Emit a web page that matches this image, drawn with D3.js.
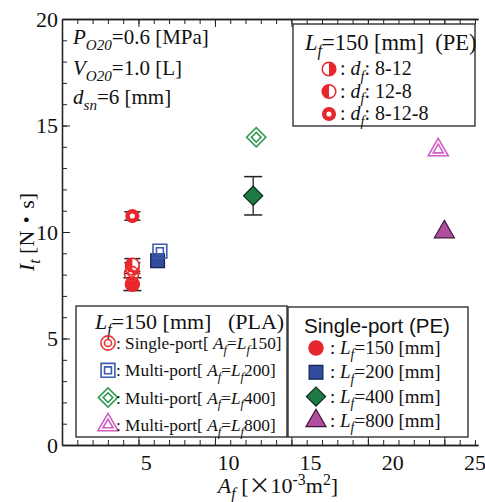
<!DOCTYPE html>
<html>
<head>
<meta charset="utf-8">
<script src="https://cdn.jsdelivr.net/npm/d3@7"></script>
<style>
  body { margin: 0; background: #fff; }
  text { font-family: 'Liberation Serif', 'Times New Roman', serif; fill: #111; white-space: pre; }
</style>
</head>
<body>
<div id="chart"></div>
<script>
// ---- data (A_f in 10^-3 m^2, I_t in N.s) ----
// single-port PE, L_f = 150, 200, 400, 800 mm
const peNames = ['150', '200', '400', '800'];
const peX = [4.6, 6.25, 12.5, 25.0];
const peY = [7.55, 8.65, 11.7, 10.0];
const peErr = [0.3, 0, 0.9, 0];

// L_f = 150 mm PE, different d_f profiles
const dfNames = ['8-12', '12-8', '8-12-8'];
const dfX = [4.6, 4.6, 4.6];
const dfY = [8.3, 8.45, 10.75];
const dfErr = [0.25, 0.3, 0.2];

// PLA, A_f equal to L_f 150/200/400/800
const plaNames = ['Single-port', 'Multi-port', 'Multi-port', 'Multi-port'];
const plaLf = ['150', '200', '400', '800'];
const plaX = [4.55, 6.4, 12.7, 24.6];
const plaY = [8.05, 9.1, 14.45, 13.85];

const xTickLabels = [5, 10, 15, 20, 25];
const yTickLabels = [0, 5, 10, 15, 20];

// ---- styles ----
const shapes = [d3.symbolCircle, d3.symbolSquare, d3.symbolSquare, d3.symbolTriangle];
const shapeSize = [160, 190, 185, 175];
const shapeRot = [0, 0, 45, 0];
const fills = ['#e8262b', '#2f4d9c', '#1d7a45', '#b24c9e'];
const strokes = ['#e8262b', '#15224f', '#0d2b18', '#3d1636'];
const plaColors = ['#ee3535', '#3d5bb0', '#2e9b50', '#cf5fc5'];
const red = '#e8262b';

const width = 485, height = 502;
const svg = d3.select('#chart').append('svg')
    .attr('width', width)
    .attr('height', height);

// tick positions and printed labels do not line up in the original,
// so labels get their own scale
const x = d3.scaleLinear().domain([0, 27.2]).range([62, 478]);
const xLabel = d3.scaleLinear().domain([0, 25]).range([64, 475]);
const y = d3.scaleLinear().domain([0, 20]).range([445, 19]);

// rich text helper: parts = [[text, kind]] kind: '', 'i', 'sub', 'sup', 'cjk'
function rich(g, px, py, parts, size, anchor) {
  const t = g.append('text').attr('x', px).attr('y', py)
      .attr('font-size', size).attr('text-anchor', anchor || 'start');
  let shift = 0;
  parts.forEach(p => {
    const kind = p[1] || '';
    let s = 0, fs = size;
    if (kind.includes('sub')) { s = size * 0.28; fs = size * 0.72; }
    if (kind.includes('sup')) { s = -size * 0.38; fs = size * 0.72; }
    const ts = t.append('tspan').attr('dy', s - shift).attr('font-size', fs).text(p[0]);
    if (kind.includes('i') || kind.includes('sub')) ts.attr('font-style', 'italic');
    if (kind.includes('cjk')) ts.style('font-family', "'Noto Sans CJK JP'");
    shift = s;
  });
  return t;
}

// ---- axes ----
const ax = svg.append('g');
function styleAxis(g) {
  g.selectAll('path').attr('stroke', '#222').attr('stroke-width', 1.3);
  g.selectAll('line').attr('stroke', '#222').attr('stroke-width', 1);
}
const majorX = d3.range(0, 26, 5), minorX = d3.range(0, 28, 1);
const majorY = d3.range(0, 21, 5), minorY = d3.range(0, 21, 1);

ax.append('g').attr('transform', `translate(0,${y(0)})`)
  .call(d3.axisBottom(x).tickValues(minorX).tickSize(-5).tickSizeOuter(0).tickFormat(''))
  .call(styleAxis);
ax.append('g').attr('transform', `translate(0,${y(0)})`)
  .call(d3.axisBottom(x).tickValues(majorX).tickSize(-8).tickSizeOuter(0).tickFormat(''))
  .call(styleAxis);
ax.append('g').attr('transform', `translate(0,${y(20)})`)
  .call(d3.axisTop(x).tickValues(minorX).tickSize(-5).tickSizeOuter(0).tickFormat(''))
  .call(styleAxis);
ax.append('g').attr('transform', `translate(0,${y(20)})`)
  .call(d3.axisTop(x).tickValues(majorX).tickSize(-8).tickSizeOuter(0).tickFormat(''))
  .call(styleAxis);
ax.append('g').attr('transform', `translate(${x(0)},0)`)
  .call(d3.axisLeft(y).tickValues(minorY).tickSize(-5).tickSizeOuter(0).tickFormat(''))
  .call(styleAxis);
ax.append('g').attr('transform', `translate(${x(0)},0)`)
  .call(d3.axisLeft(y).tickValues(majorY).tickSize(-8).tickSizeOuter(0).tickPadding(4)
        .tickFormat(d => yTickLabels.includes(d) ? d : ''))
  .call(styleAxis)
  .call(g => g.selectAll('text').attr('font-size', 22).attr('fill', '#111')
        .style('font-family', "'Liberation Serif', serif"));

ax.selectAll('.xlab').data(xTickLabels).enter().append('text')
  .attr('x', d => xLabel(d)).attr('y', 470)
  .attr('text-anchor', 'middle').attr('font-size', 22)
  .text(d => d);

// axis titles
rich(svg, 278, 493, [['A', 'i'], ['f', 'sub'], [' [', ''], ['×', 'cjk'], ['10', ''], ['-3', 'sup'], ['m', ''], ['2', 'sup'], [']', '']], 22, 'middle');
const yt = svg.append('g').attr('transform', 'translate(34,232) rotate(-90)');
rich(yt, 0, 0, [['I', 'i'], ['t', 'sub'], [' [N', ''], ['・', 'cjk'], ['s]', '']], 22, 'middle');

// conditions text
rich(svg, 73, 44, [['P', 'i'], ['O20', 'sub'], ['=0.6 [MPa]', '']], 21);
rich(svg, 73, 75, [['V', 'i'], ['O20', 'sub'], ['=1.0 [L]', '']], 21);
rich(svg, 73, 104, [['d', 'i'], ['sn', 'sub'], ['=6 [mm]', '']], 21);

// ---- marks ----
const plot = svg.append('g');

function errBar(g, cx, cy, e, hw) {
  if (!e) return;
  g.append('line').attr('x1', x(cx)).attr('x2', x(cx)).attr('y1', y(cy - e)).attr('y2', y(cy + e))
    .attr('stroke', '#222').attr('stroke-width', 1.3);
  [cy - e, cy + e].forEach(v => g.append('line')
    .attr('x1', x(cx) - hw).attr('x2', x(cx) + hw).attr('y1', y(v)).attr('y2', y(v))
    .attr('stroke', '#222').attr('stroke-width', 1.5));
}

function peSymbol(g, i, px, py) {
  g.append('path')
    .attr('d', d3.symbol().type(shapes[i]).size(shapeSize[i])())
    .attr('transform', `translate(${px},${py}) rotate(${shapeRot[i]})`)
    .attr('fill', fills[i]).attr('stroke', strokes[i]).attr('stroke-width', 1.2);
}
function plaSymbol(g, i, px, py) {
  [1, 0.25].forEach(k => g.append('path')
    .attr('d', d3.symbol().type(shapes[i]).size(shapeSize[i] * k)())
    .attr('transform', `translate(${px},${py}) rotate(${shapeRot[i]})`)
    .attr('fill', 'none').attr('stroke', plaColors[i]).attr('stroke-width', 1.6));
}
const r = 6.8;
function dfSymbol(g, i, px, py) {
  if (i === 2) {
    g.append('circle').attr('cx', px).attr('cy', py).attr('r', r - 2)
      .attr('fill', '#fff').attr('stroke', red).attr('stroke-width', 4.5);
    return;
  }
  g.append('circle').attr('cx', px).attr('cy', py).attr('r', r)
    .attr('fill', '#fff').attr('stroke', red).attr('stroke-width', 1.5);
  const a0 = i === 0 ? 0 : Math.PI;
  g.append('path')
    .attr('d', d3.arc().innerRadius(0).outerRadius(r).startAngle(a0).endAngle(a0 + Math.PI)())
    .attr('transform', `translate(${px},${py})`)
    .attr('fill', red);
}

peX.forEach((v, i) => errBar(plot, v, peY[i], peErr[i], 9));
peX.forEach((v, i) => peSymbol(plot, i, x(v), y(peY[i])));
dfX.forEach((v, i) => errBar(plot, v, dfY[i], dfErr[i], 8));
dfX.forEach((v, i) => dfSymbol(plot, i, x(v), y(dfY[i])));
plaX.forEach((v, i) => plaSymbol(plot, i, x(v), y(plaY[i])));

// ---- legends ----
function box(x0, y0, w, h) {
  svg.append('rect').attr('x', x0).attr('y', y0).attr('width', w).attr('height', h)
    .attr('fill', '#fff').attr('stroke', '#222').attr('stroke-width', 1.3);
}

// d_f legend
box(293, 24, 182, 102);
rich(svg, 305, 50, [['L', 'i'], ['f', 'sub'], ['=150 [mm]  (PE)', '']], 22.5);
dfNames.forEach((n, i) => {
  const ly = 69 + i * 22.5;
  dfSymbol(svg, i, 329, ly);
  rich(svg, 340, ly + 6, [[': ', ''], ['d', 'i'], ['f', 'sub'], [': ' + n, '']], 20);
});

// PLA legend
box(76, 306, 211, 131);
rich(svg, 95, 329, [['L', 'i'], ['f', 'sub'], ['=150 [mm]   (PLA)', '']], 22);
plaNames.forEach((n, i) => {
  const ly = 343 + i * 27.3;
  plaSymbol(svg, i, 108, ly);
  rich(svg, 116, ly + 6, [[': ' + n + '[ ', ''], ['A', 'i'], ['f', 'sub'], ['=', ''], ['L', 'i'], ['f', 'sub'], [plaLf[i] + ']', '']], 17.3);
});

// single-port PE legend
box(288, 307, 180, 130);
svg.append('text').attr('x', 377).attr('y', 333).attr('text-anchor', 'middle')
  .attr('font-size', 20.5).style('font-family', "'Liberation Sans', Arial, sans-serif")
  .text('Single-port (PE)');
peNames.forEach((n, i) => {
  const ly = 348 + i * 24.3;
  peSymbol(svg, i, 316, ly);
  rich(svg, 330, ly + 6, [[': ', ''], ['L', 'i'], ['f', 'sub'], ['=' + n + ' [mm]', '']], 19);
});
</script>
</body>
</html>
